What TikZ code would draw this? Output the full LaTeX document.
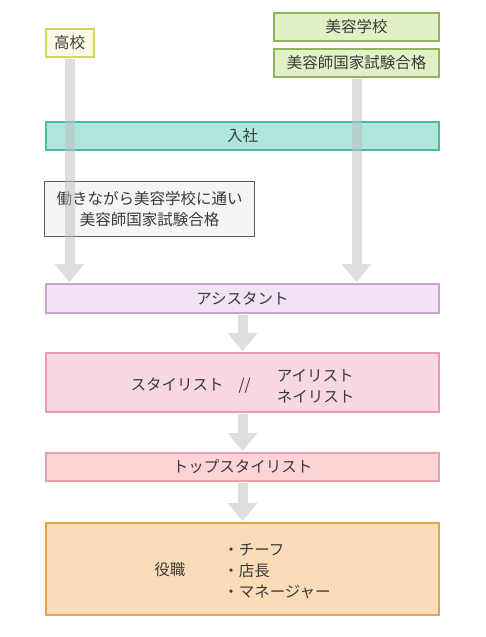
\documentclass[tikz,border=0pt]{standalone}
\usepackage{fontspec}
\setmainfont{Noto Sans CJK JP}
\usepackage{xcolor}
\usetikzlibrary{arrows.meta}

\definecolor{txtgray}{HTML}{3A3A3A}
\definecolor{hsFill}{HTML}{FAFAE6}
\definecolor{hsLine}{HTML}{D5D36A}
\definecolor{bsFill}{HTML}{E2F0C7}
\definecolor{bsLine}{HTML}{8FB75A}
\definecolor{nyFill}{HTML}{AEE6DC}
\definecolor{nyLine}{HTML}{4DB9A4}
\definecolor{wkFill}{HTML}{F5F5F3}
\definecolor{wkLine}{HTML}{5A5A5A}
\definecolor{asFill}{HTML}{F1E3F5}
\definecolor{asLine}{HTML}{C8A3CE}
\definecolor{stFill}{HTML}{F8D7E5}
\definecolor{stLine}{HTML}{E99AB3}
\definecolor{tpFill}{HTML}{FDD3D6}
\definecolor{tpLine}{HTML}{E5A0A9}
\definecolor{rlFill}{HTML}{FADCB9}
\definecolor{rlLine}{HTML}{E0A64E}
\definecolor{barGray}{HTML}{BDBDBD}

\begin{document}
\begin{tikzpicture}[
    x=1pt, y=-1pt,
    font=\fontsize{15.5pt}{21pt}\selectfont,
    text=txtgray,
    box/.style={
        draw,
        line width=2pt,
        align=center,
        inner sep=0pt,
        minimum height=28pt
    },
    wide/.style={
        box,
        minimum width=393pt
    },
    flow/.style={
        draw=barGray,
        opacity=0.5,
        line width=10pt,
        shorten <=1pt,
        shorten >=1pt,
        -{Triangle[length=18pt, width=30pt, line width=0pt]}
    }
]
\useasboundingbox (0,0) rectangle (485,637);

% ==================== entry routes ====================
\node[box, fill=hsFill, draw=hsLine, minimum width=48pt] (takou) at (69.5,42.5) {高校};

\node[box, fill=bsFill, draw=bsLine, minimum width=165pt] (school)  at (356.5,27) {美容学校};
\node[box, fill=bsFill, draw=bsLine, minimum width=165pt] (license) at (356.5,63) {美容師国家試験合格};

\node[wide, fill=nyFill, draw=nyLine] (nyusha) at (242.5,136) {入社};

\node[box, fill=wkFill, draw=wkLine, line width=1.2pt,
      minimum width=210pt, minimum height=55pt] (work) at (149.5,209)
{働きながら美容学校に通い\\美容師国家試験合格};

% ==================== career steps ====================
\node[wide, fill=asFill, draw=asLine, minimum height=29pt] (assist) at (242.5,298.5) {アシスタント};

\node[wide, fill=stFill, draw=stLine, minimum height=59pt,
      text height=29.4pt, text depth=12.6pt] (stylist) at (242.5,382.5)
{スタイリスト\hspace{15pt}//\hspace{26pt}\begin{tabular}{@{}l@{}}アイリスト\\ネイリスト\end{tabular}};

\node[wide, fill=tpFill, draw=tpLine] (topst) at (242.5,467) {トップスタイリスト};

\node[wide, fill=rlFill, draw=rlLine, minimum height=92pt,
      text height=38.4pt, text depth=24.6pt] (role) at (242.5,569)
{役職\hspace{38pt}\begin{tabular}{@{}l@{}}・チーフ\\・店長\\・マネージャー\end{tabular}};

% ==================== arrows ====================
\draw[flow] (takou.south) -- (takou.south |- assist.north);
\draw[flow] (license.south) -- (license.south |- assist.north);
\draw[flow] (assist) -- (stylist);
\draw[flow] (stylist) -- (topst);
\draw[flow] (topst) -- (role);

\end{tikzpicture}
\end{document}
